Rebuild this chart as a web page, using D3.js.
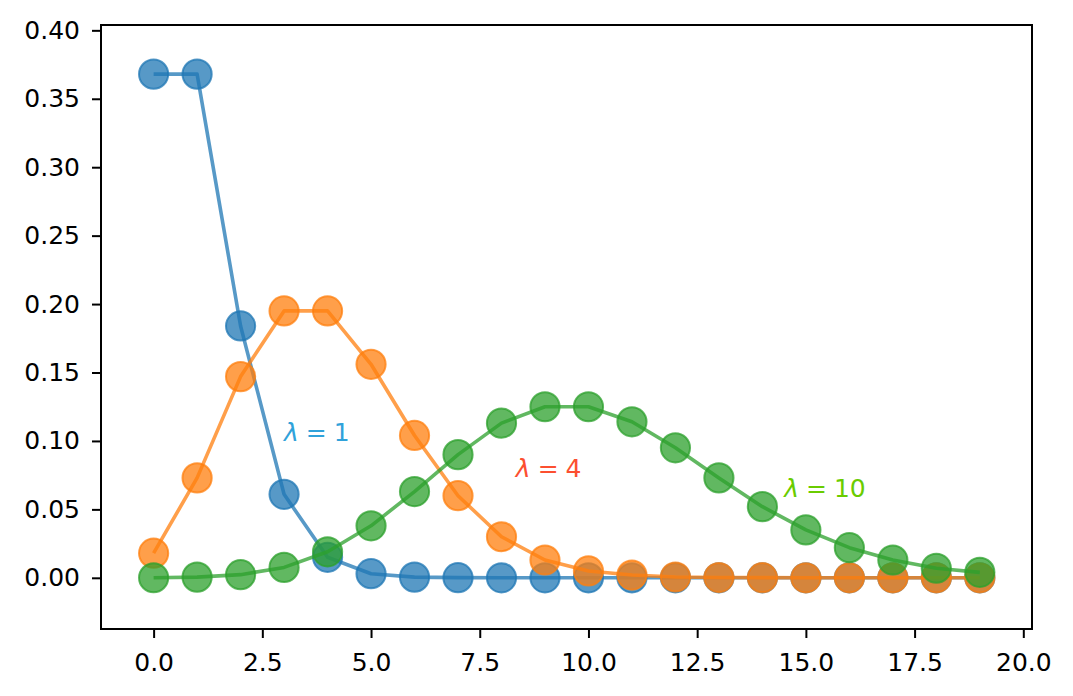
<!DOCTYPE html>
<html>
<head>
<meta charset="utf-8">
<script src="https://cdn.jsdelivr.net/npm/d3@7"></script>
<style>
  html, body { margin: 0; padding: 0; background: #fff; }
  svg { display: block; font-family: "DejaVu Sans", sans-serif; }
</style>
</head>
<body>
<div id="chart"></div>
<script>
// values
const xs = d3.range(0, 20);
const pmfL1 = [0.368, 0.368, 0.184, 0.061, 0.015, 0.003, 0.0005, 0.0001, 0, 0, 0, 0, 0, 0, 0, 0, 0, 0, 0, 0];
const pmfL4 = [0.018, 0.073, 0.147, 0.195, 0.195, 0.156, 0.104, 0.060, 0.030, 0.013, 0.005, 0.002, 0.0006, 0.0002, 0.0001, 0, 0, 0, 0, 0];
const pmfL10 = [0.00005, 0.0005, 0.0023, 0.0076, 0.019, 0.038, 0.063, 0.090, 0.113, 0.125, 0.125, 0.114, 0.095, 0.073, 0.052, 0.035, 0.022, 0.013, 0.007, 0.004];
const seriesColors = ['#1f77b4', '#ff7f0e', '#2ca02c'];
const xTicks = [0, 2.5, 5, 7.5, 10, 12.5, 15, 17.5, 20];
const yTicks = [0, 0.05, 0.10, 0.15, 0.20, 0.25, 0.30, 0.35, 0.40];
const labels = [
  { x: 3, y: 0.1, lam: '1', color: '#30a2da' },
  { x: 8.33, y: 0.074, lam: '4', color: '#fc4f30' },
  { x: 14.5, y: 0.059, lam: '10', color: '#6acc00' }
];

const width = 1073, height = 696;
const margin = { top: 25, right: 41, bottom: 67, left: 101 };
const fontSize = 25;

const svg = d3.select('#chart').append('svg')
  .attr('width', width)
  .attr('height', height);

const x = d3.scaleLinear()
  .domain([-1.21, 20.2])
  .range([margin.left, width - margin.right]);
const y = d3.scaleLinear()
  .domain([-0.0374, 0.4039])
  .range([height - margin.bottom, margin.top]);

const line = d3.line()
  .x((d, i) => x(xs[i]))
  .y((d) => y(d));

[pmfL1, pmfL4, pmfL10].forEach((vals, k) => {
  const g = svg.append('g');
  g.append('path')
    .datum(vals)
    .attr('d', line)
    .attr('fill', 'none')
    .attr('stroke', seriesColors[k])
    .attr('stroke-opacity', 0.75)
    .attr('stroke-width', 3.6)
    .attr('stroke-linejoin', 'round');
  g.selectAll('circle')
    .data(vals)
    .enter().append('circle')
    .attr('cx', (d, i) => x(xs[i]))
    .attr('cy', (d) => y(d))
    .attr('r', 14.6)
    .attr('fill', seriesColors[k])
    .attr('fill-opacity', 0.75)
    .attr('stroke', seriesColors[k])
    .attr('stroke-opacity', 0.75)
    .attr('stroke-width', 2);
});

labels.forEach((l) => {
  const t = svg.append('text')
    .attr('x', x(l.x))
    .attr('y', y(l.y))
    .attr('fill', l.color)
    .attr('font-family', 'DejaVu Sans')
    .attr('font-size', fontSize);
  t.append('tspan').style('font-style', 'italic').text('λ');
  t.append('tspan').attr('dx', 7).text('=');
  t.append('tspan').attr('dx', 7).text(l.lam);
});

const xAxis = svg.append('g')
  .attr('transform', `translate(0,${height - margin.bottom})`)
  .call(d3.axisBottom(x).tickValues(xTicks).tickFormat(d3.format('.1f')).tickSize(9).tickPadding(15));
const yAxis = svg.append('g')
  .attr('transform', `translate(${margin.left},0)`)
  .call(d3.axisLeft(y).tickValues(yTicks).tickFormat(d3.format('.2f')).tickSize(9).tickPadding(12));

[xAxis, yAxis].forEach((a) => {
  a.attr('font-family', 'DejaVu Sans').attr('font-size', fontSize);
  a.select('.domain').remove();
  a.selectAll('.tick line').attr('stroke', '#000').attr('stroke-width', 2);
  a.selectAll('.tick text').attr('fill', '#000');
});

// frame
svg.append('rect')
  .attr('x', margin.left)
  .attr('y', margin.top)
  .attr('width', width - margin.left - margin.right)
  .attr('height', height - margin.top - margin.bottom)
  .attr('fill', 'none')
  .attr('stroke', '#000')
  .attr('stroke-width', 2);
</script>
</body>
</html>
